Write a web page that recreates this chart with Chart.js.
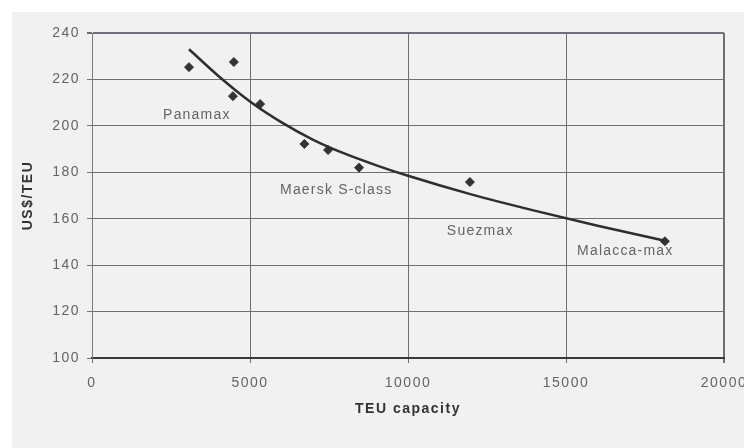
<!DOCTYPE html>
<html>
<head>
<meta charset="utf-8">
<script src="https://cdn.jsdelivr.net/npm/chart.js@4.4.1/dist/chart.umd.min.js"></script>
<style>
  html, body { margin: 0; padding: 0; background: #ffffff; }
  #wrap { width: 744px; height: 448px; }
</style>
</head>
<body>
<div id="wrap"><canvas id="costChart" width="744" height="448"></canvas></div>
<script>
// ship sizes (TEU) and slot cost (US$/TEU)
const capacityTeu = [3070, 4490, 4460, 5320, 6720, 7470, 8450, 11960, 18130];
const costPerTeu = [225.3, 227.5, 212.8, 209.4, 192.2, 189.6, 182.0, 175.8, 150.3];

// fitted trend curve
const trendTeu = [3070, 4000, 5000, 6000, 7000, 8000, 9000, 10000, 12000, 14000, 16000, 18130];
const trendCost = [233, 221.5, 210.5, 201.5, 194, 188, 183, 178.5, 170.5, 163.5, 157, 150.5];

// axis ticks
const xTicks = [0, 5000, 10000, 15000, 20000];
const yTicks = [100, 120, 140, 160, 180, 200, 220, 240];

// ship class names
const classNames = ['Panamax', 'Maersk S-class', 'Suezmax', 'Malacca-max'];
const classTeu = [2250, 5950, 11230, 15350];
const classCost = [204.7, 172.3, 154.7, 146];

const gridColor = '#6b6f78';
const textColor = '#646464';
const baseFont = '"Liberation Sans", Arial, sans-serif';

const backdrop = {
    id: 'backdrop',
    beforeDraw(chart) {
        const c = chart.ctx;
        c.save();
        c.fillStyle = '#ffffff';
        c.fillRect(0, 0, chart.width, chart.height);
        c.fillStyle = '#f1f1f1';
        c.fillRect(12, 12, chart.width - 12, chart.height - 12);
        c.restore();
        c.letterSpacing = '1.5px';
    },
    afterDraw(chart) {
        chart.ctx.letterSpacing = '0px';
    }
};

const classLabels = {
    id: 'classLabels',
    afterDatasetsDraw(chart) {
        const c = chart.ctx;
        const xs = chart.scales.x, ys = chart.scales.y;
        c.save();
        c.letterSpacing = '1.2px';
        c.font = '14px ' + baseFont;
        c.fillStyle = textColor;
        c.textAlign = 'left';
        c.textBaseline = 'middle';
        classNames.forEach((name, i) => {
            c.fillText(name, xs.getPixelForValue(classTeu[i]), ys.getPixelForValue(classCost[i]));
        });
        c.restore();
    }
};

const ctx = document.getElementById('costChart').getContext('2d');
const costChart = new Chart(ctx, {
    type: 'scatter',
    data: {
        datasets: [
            {
                label: 'Trend',
                type: 'line',
                data: trendTeu.map((x, i) => ({ x: x, y: trendCost[i] })),
                borderColor: '#2e2e2e',
                borderWidth: 2.5,
                pointRadius: 0,
                cubicInterpolationMode: 'monotone',
                fill: false
            },
            {
                label: 'Ships',
                data: capacityTeu.map((x, i) => ({ x: x, y: costPerTeu[i] })),
                pointStyle: 'rectRot',
                pointRadius: 4.5,
                backgroundColor: '#333333',
                borderColor: '#333333',
                borderWidth: 1
            }
        ]
    },
    options: {
        responsive: false,
        animation: false,
        events: [],
        layout: { padding: { top: 33, right: 20, left: 0, bottom: 0 } },
        plugins: {
            legend: { display: false },
            tooltip: { enabled: false }
        },
        scales: {
            x: {
                type: 'linear',
                min: 0,
                max: 20000,
                afterBuildTicks(scale) {
                    scale.ticks = xTicks.map(v => ({ value: v }));
                },
                afterFit(scale) {
                    scale.height = 90;
                    scale.paddingLeft = 0;
                    scale.paddingRight = 0;
                },
                ticks: {
                    padding: 12,
                    color: textColor,
                    font: { family: baseFont, size: 14 },
                    maxRotation: 0,
                    autoSkip: false,
                    callback: v => String(v)
                },
                grid: {
                    color: gridColor,
                    lineWidth: c => (c.tick && c.tick.value === 20000 ? 2 : 1),
                    tickLength: 5
                },
                border: { color: '#3a3a3a', width: 2 },
                title: {
                    display: true,
                    text: 'TEU capacity',
                    color: '#333333',
                    font: { family: baseFont, size: 14, weight: 'bold' },
                    padding: { top: 4, bottom: 30 }
                }
            },
            y: {
                min: 100,
                max: 240,
                afterBuildTicks(scale) {
                    scale.ticks = yTicks.map(v => ({ value: v }));
                },
                afterFit(scale) {
                    scale.width = 92;
                    scale.paddingTop = 0;
                    scale.paddingBottom = 0;
                },
                ticks: {
                    padding: 7,
                    color: textColor,
                    font: { family: baseFont, size: 14 },
                    callback: v => String(v)
                },
                grid: {
                    color: gridColor,
                    lineWidth: c => (c.tick && c.tick.value === 240 ? 2 : 1),
                    tickLength: 5
                },
                border: { color: '#7a7a7a', width: 1 },
                title: {
                    display: true,
                    text: 'US$/TEU',
                    color: '#333333',
                    font: { family: baseFont, size: 14, weight: 'bold' },
                    padding: { top: 20, bottom: 4 }
                }
            }
        }
    },
    plugins: [backdrop, classLabels]
});
</script>
</body>
</html>
